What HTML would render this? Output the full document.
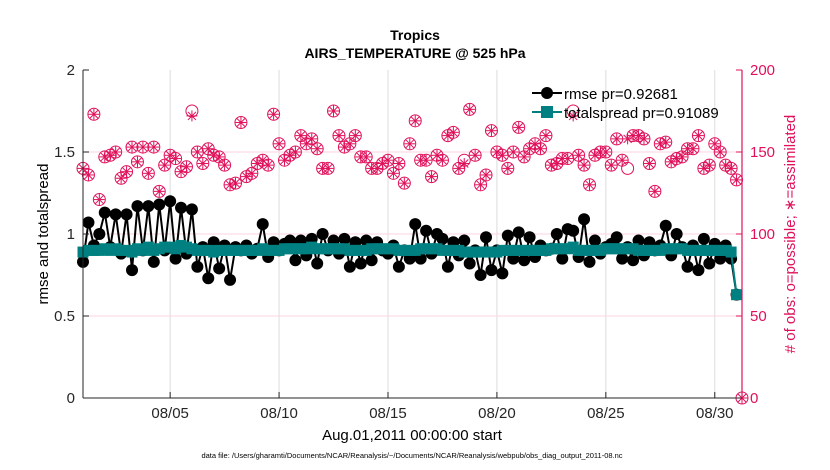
<!DOCTYPE html>
<html><head><meta charset="utf-8"><style>
body{margin:0;background:#fff;}
svg{display:block;font-family:"Liberation Sans",sans-serif;}
</style></head><body>
<svg id="chart" width="830" height="470">
<g id="grid"></g>
<g id="obs"></g>
<g id="lines"></g>
<g id="axes"></g>
<text x="415" y="40" text-anchor="middle" font-size="14" font-weight="bold">Tropics</text>
<text x="415" y="58" text-anchor="middle" font-size="14" font-weight="bold">AIRS_TEMPERATURE @ 525 hPa</text>
<text x="412" y="440" text-anchor="middle" font-size="15">Aug.01,2011 00:00:00 start</text>
<text transform="translate(48,234) rotate(-90)" text-anchor="middle" font-size="15">rmse and totalspread</text>
<text transform="translate(795,234) rotate(-90)" text-anchor="middle" font-size="15" fill="#e0105a"># of obs: o=possible; ∗=assimilated</text>
<text x="412" y="458" text-anchor="middle" font-size="7.5">data file: /Users/gharamti/Documents/NCAR/Reanalysis/~/Documents/NCAR/Reanalysis/webpub/obs_diag_output_2011-08.nc</text>
<g>
<line x1="532" y1="93" x2="562" y2="93" stroke="#000" stroke-width="2"/>
<circle cx="547" cy="93" r="6" fill="#000"/>
<text x="564" y="99" font-size="15">rmse pr=0.92681</text>
<line x1="532" y1="112" x2="562" y2="112" stroke="#008080" stroke-width="2"/>
<rect x="541" y="106" width="12" height="12" fill="#008080"/>
<text x="564" y="118" font-size="15">totalspread pr=0.91089</text>
</g>
</svg>
<script>
const possible=[140,136,173,121,147,148,150,134,138,153,144,153,137,153,126,142,148,146,138,141,175,150,143,152,148,147,142,130,131,168,135,137,143,145,142,173,155,145,148,150,160,155,158,152,140,140,175,160,153,155,160,147,147,140,140,143,145,137,143,131,155,169,145,145,135,148,145,160,162,140,145,176,148,130,136,163,150,148,140,150,165,147,152,155,152,160,142,143,146,146,175,148,142,130,148,150,150,142,158,145,140,160,160,158,143,126,155,156,144,146,147,152,152,160,140,142,155,150,142,140,133];
const assimilated=possible.map(v=>v);
assimilated[20]=172;assimilated[70]=143;assimilated[90]=172;assimilated[100]=158;
const obsEnd=[62,0];
const rmse=[0.83,1.07,0.93,1.0,1.13,0.92,1.12,0.88,1.12,0.78,1.17,0.9,1.17,0.83,1.18,0.9,1.2,0.85,1.16,0.88,1.15,0.8,0.92,0.73,0.95,0.79,0.93,0.72,0.92,0.9,0.93,0.88,0.91,1.06,0.86,0.95,0.9,0.94,0.96,0.84,0.96,0.87,0.97,0.82,1.0,0.9,0.96,0.88,0.97,0.8,0.95,0.82,0.96,0.84,0.95,0.9,0.88,0.93,0.8,0.9,0.85,1.06,0.85,1.02,0.88,1.0,0.97,0.8,0.95,0.87,0.96,0.82,0.9,0.75,0.98,0.78,0.9,0.76,0.99,0.85,1.01,0.84,0.98,0.86,0.93,0.9,0.91,1.0,0.85,1.03,1.02,0.86,1.09,0.83,0.96,0.88,0.92,0.94,0.98,0.85,0.92,0.84,0.96,0.87,0.95,0.9,0.93,1.05,0.87,1.0,0.92,0.8,0.93,0.78,0.97,0.82,0.94,0.85,0.93,0.85,0.63];
const spread=[0.89,0.9,0.9,0.9,0.91,0.9,0.91,0.9,0.9,0.89,0.91,0.9,0.92,0.9,0.91,0.92,0.92,0.91,0.93,0.92,0.91,0.9,0.9,0.9,0.89,0.9,0.9,0.9,0.9,0.9,0.9,0.9,0.9,0.91,0.9,0.9,0.9,0.91,0.91,0.91,0.91,0.91,0.92,0.91,0.91,0.91,0.91,0.91,0.91,0.9,0.9,0.9,0.9,0.91,0.91,0.91,0.91,0.91,0.9,0.9,0.9,0.9,0.91,0.91,0.91,0.91,0.9,0.9,0.9,0.9,0.89,0.89,0.89,0.89,0.89,0.89,0.89,0.9,0.9,0.9,0.9,0.9,0.9,0.9,0.9,0.9,0.91,0.91,0.91,0.91,0.92,0.9,0.9,0.9,0.9,0.9,0.91,0.91,0.91,0.91,0.91,0.91,0.9,0.9,0.9,0.9,0.9,0.91,0.91,0.91,0.91,0.9,0.9,0.9,0.9,0.9,0.9,0.9,0.9,0.89,0.63];
const xTickLabels=["08/05","08/10","08/15","08/20","08/25","08/30"];
const xTickDays=[4,9,14,19,24,29];
const leftTicks=[0,0.5,1,1.5,2];
const rightTicks=[0,50,100,150,200];

const L=83,R=742,T=70,B=398,XMAX=30.25;
const xs=d=>L+d/XMAX*(R-L);
const yl=v=>B-v/2*(B-T);
const yr=v=>B-v/200*(B-T);
const NS="http://www.w3.org/2000/svg";
function mk(p,tag,at){const e=document.createElementNS(NS,tag);for(const k in at)e.setAttribute(k,at[k]);p.appendChild(e);return e;}
const grid=document.getElementById('grid'),axes=document.getElementById('axes'),obs=document.getElementById('obs'),lines=document.getElementById('lines');
xTickDays.forEach((d,i)=>{
 const g=mk(grid,'line',{x1:xs(d),x2:xs(d),y1:T,y2:B,stroke:'#dcdcdc','stroke-width':1});
 
 
 mk(axes,'line',{x1:xs(d),x2:xs(d),y1:B,y2:B-6,stroke:'#262626'});
 const t=mk(axes,'text',{x:xs(d),y:B+20,'text-anchor':'middle','font-size':15,fill:'#262626'});
 t.textContent=xTickLabels[i];
 
 
});
rightTicks.forEach(v=>{
 if(v>0&&v<200){const g=mk(grid,'line',{x1:L,x2:R,y1:yr(v),y2:yr(v),stroke:'#fbd3df','stroke-width':1});
 
 }
 mk(axes,'line',{x1:R,x2:R-6,y1:yr(v),y2:yr(v),stroke:'#e0105a'});
 const t=mk(axes,'text',{x:R+8,y:yr(v)+5,'font-size':15,fill:'#e0105a'});
 t.textContent=v;
 
 
});
leftTicks.forEach(v=>{
 mk(axes,'line',{x1:L,x2:L+6,y1:yl(v),y2:yl(v),stroke:'#262626'});
 const t=mk(axes,'text',{x:L-8,y:yl(v)+5,'text-anchor':'end','font-size':15,fill:'#262626'});
 t.textContent=v;
 
 
});
mk(axes,'line',{x1:L,x2:R,y1:B,y2:B,stroke:'#262626'});
mk(axes,'line',{x1:L,x2:L,y1:T,y2:B,stroke:'#262626'});
mk(axes,'line',{x1:R,x2:R,y1:T,y2:B,stroke:'#e0105a','stroke-width':1.2});
const C='#e0105a';
function star(x,y){const g=mk(obs,'g',{stroke:C,'stroke-width':1});
 
 
 mk(g,'line',{x1:x-5.5,x2:x+5.5,y1:y,y2:y});mk(g,'line',{x1:x,x2:x,y1:y-5.5,y2:y+5.5});
 mk(g,'line',{x1:x-4,x2:x+4,y1:y-4,y2:y+4});mk(g,'line',{x1:x-4,x2:x+4,y1:y+4,y2:y-4});}
function circ(x,y){const c=mk(obs,'circle',{cx:x,cy:y,r:6,fill:'none',stroke:C,'stroke-width':1});
 
 }
const dt=0.25;
possible.forEach((v,i)=>{circ(xs(i*dt),yr(v));star(xs(i*dt),yr(assimilated[i]));});
circ(xs(possible.length*dt),yr(obsEnd[1]));star(xs(possible.length*dt),yr(obsEnd[1]));
function pts(a){return a.map((v,i)=>xs(i*dt)+','+yl(v)).join(' ');}
const pr=mk(lines,'polyline',{points:pts(rmse),fill:'none',stroke:'#000','stroke-width':2});


rmse.forEach((v,i)=>{const c=mk(lines,'circle',{cx:xs(i*dt),cy:yl(v),r:6,fill:'#000'});
 
 });
const ps=mk(lines,'polyline',{points:pts(spread),fill:'none',stroke:'#008080','stroke-width':2});


spread.forEach((v,i)=>{const r=mk(lines,'rect',{x:xs(i*dt)-5.5,y:yl(v)-5.5,width:11,height:11,fill:'#008080'});
 
 });
</script>
</body></html>
